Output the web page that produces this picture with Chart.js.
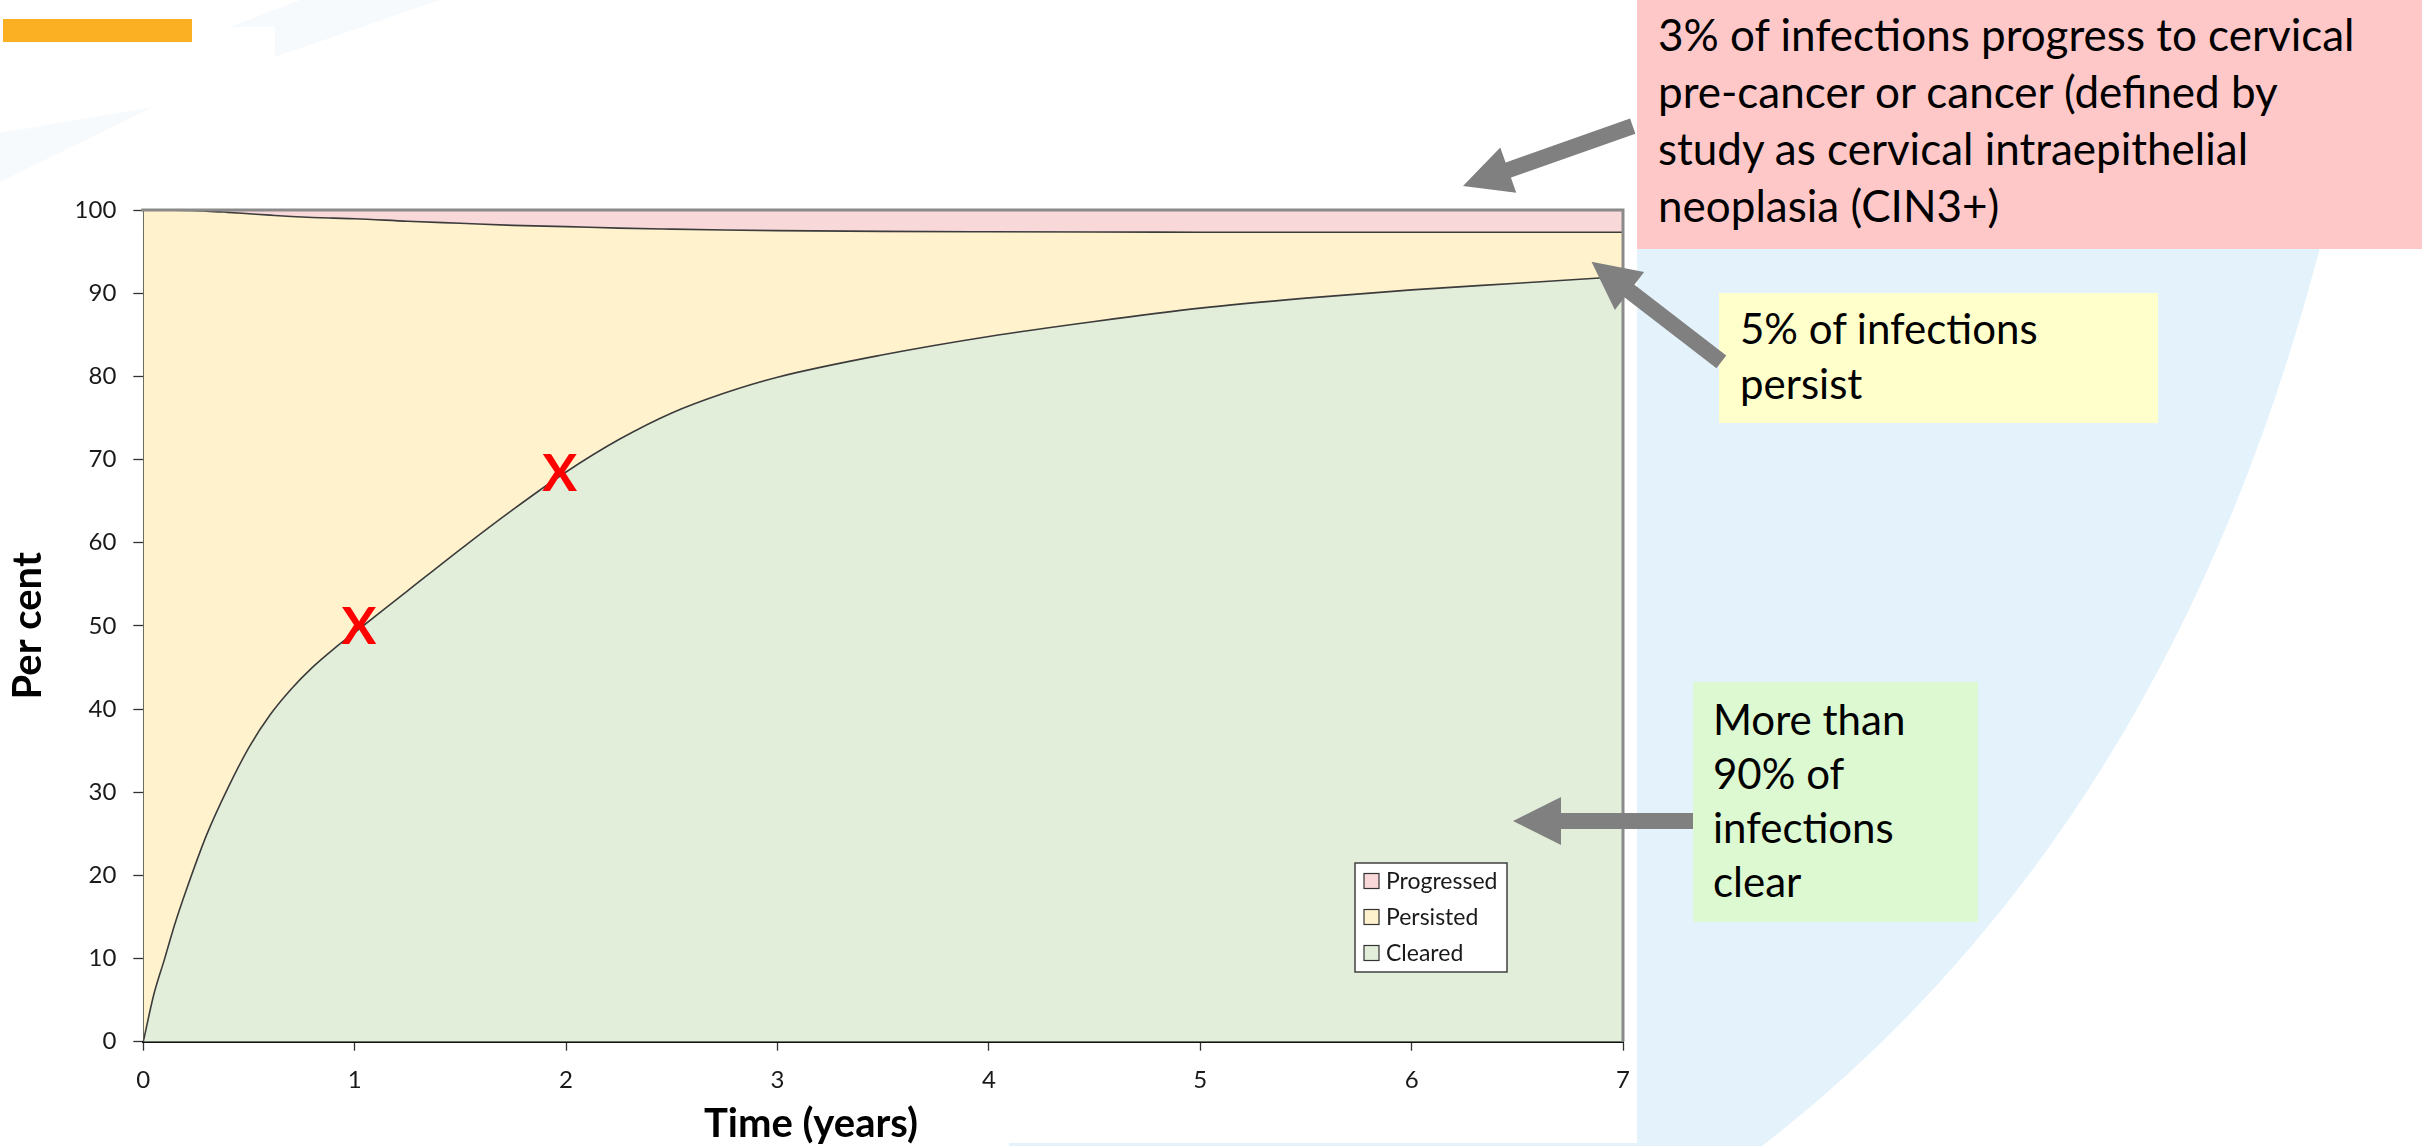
<!DOCTYPE html>
<html>
<head>
<meta charset="utf-8">
<script src="https://cdn.jsdelivr.net/npm/chart.js@4.4.1/dist/chart.umd.min.js"></script>
<style>
  html, body { margin: 0; padding: 0; background: #fff; width: 2422px; height: 1146px; overflow: hidden; }
  #bg, #arrows { position: absolute; left: 0; top: 0; }
  #arrows { pointer-events: none; }
  #wrap { position: absolute; left: 0; top: 0; width: 2422px; height: 1146px; }
  .box { position: absolute; }
  .note { position: absolute; font-family: Lato, "Open Sans", sans-serif; font-size: 42px; color: #000; white-space: nowrap; }
  #topbar { position: absolute; left: 3px; top: 19px; width: 189px; height: 23px; background: #FBB024; }
</style>
</head>
<body>
<svg id="bg" width="2422" height="1146">
  <polygon points="0,133 153,107 0,182" fill="#F7FAFD"/>
  <polygon points="230,27 275,27 275,57 440,0 300,0" fill="#F7FAFD"/>
  <path d="M1637,0 L2422,0 L2422,240 L2322,240 Q2170,830 1762,1146 L1009,1146 L1009,1143 L1637,1143 Z" fill="#E4F2FB"/>
</svg>

<div id="topbar"></div>

<div id="wrap"><canvas id="chart" width="2422" height="1146"></canvas></div>

<div class="box" style="left:1637px;top:0;width:785px;height:249px;background:#FFC8C8;"></div>
<div class="note" style="left:1658px;top:6px;font-size:44px;line-height:57px;">3% of infections progress to cervical<br>pre-cancer or cancer (defined by<br>study as cervical intraepithelial<br>neoplasia (CIN3+)</div>

<div class="box" style="left:1719px;top:293px;width:439px;height:130px;background:#FFFFCC;"></div>
<div class="note" style="left:1740px;top:301px;line-height:55px;">5% of infections<br>persist</div>

<div class="box" style="left:1693px;top:682px;width:285px;height:240px;background:#DCF9D1;"></div>
<div class="note" style="left:1713px;top:692px;line-height:54px;">More than<br>90% of<br>infections<br>clear</div>

<svg id="arrows" width="2422" height="1146">
  <g fill="#808080" stroke="none">
    <!-- arrow towards the progressed band -->
    <g transform="translate(1463,186) rotate(-19.44)">
      <rect x="46" y="-8" width="134" height="16"/>
      <polygon points="0,0 48,-24 48,24"/>
    </g>
    <!-- arrow towards the persisted band -->
    <g transform="translate(1591.5,261.7) rotate(37.65)">
      <rect x="46" y="-8" width="118" height="16"/>
      <polygon points="0,0 48,-24 48,24"/>
    </g>
    <!-- arrow towards the cleared area -->
    <g transform="translate(1513,821)">
      <rect x="46" y="-8" width="134" height="16"/>
      <polygon points="0,0 48,-24 48,24"/>
    </g>
  </g>
</svg>

<script>
// Time since infection (years) and cumulative outcome shares (per cent)
const years = [0, 0.05, 0.1, 0.15, 0.2, 0.3, 0.4, 0.5, 0.6, 0.7, 0.8, 0.9, 1.0, 1.25, 1.5, 1.75, 2.0, 2.25, 2.5, 2.75, 3.0, 3.5, 4.0, 4.5, 5.0, 5.5, 6.0, 6.5, 7.0];
const cleared = [0, 5.7, 9.9, 14.2, 18.0, 24.9, 30.5, 35.4, 39.3, 42.4, 45.0, 47.2, 49.2, 54.2, 59.2, 64.0, 68.5, 72.4, 75.6, 78.0, 79.9, 82.6, 84.8, 86.6, 88.2, 89.4, 90.4, 91.2, 92.0];
const progressed = [0, 0, 0.01, 0.02, 0.05, 0.13, 0.28, 0.45, 0.62, 0.78, 0.9, 0.98, 1.05, 1.35, 1.6, 1.85, 2.0, 2.18, 2.3, 2.4, 2.48, 2.57, 2.62, 2.65, 2.67, 2.68, 2.68, 2.68, 2.68];

// Highlighted points on the clearance curve
const markerYears = [1.02, 1.97];
const markerValues = [50.1, 68.5];

const xTicks = [0, 1, 2, 3, 4, 5, 6, 7];
const yTicks = [0, 10, 20, 30, 40, 50, 60, 70, 80, 90, 100];

const seriesNames = ['Cleared', 'Persisted', 'Progressed'];
const fillColours = ['#E2EEDA', '#FFF2CC', '#F9D8D9'];

// persisted share = whatever has neither cleared nor progressed
const persisted = years.map((_, i) => +(100 - cleared[i] - progressed[i]).toFixed(2));
const toPoints = arr => years.map((t, i) => ({ x: t, y: arr[i] }));

const frame = {
  id: 'frame',
  afterDatasetsDraw(chart) {
    const { ctx, chartArea: a } = chart;
    ctx.save();
    ctx.strokeStyle = '#8A8A8A';
    ctx.lineWidth = 3;
    ctx.beginPath();
    ctx.moveTo(a.left - 2, a.top);
    ctx.lineTo(a.right, a.top);
    ctx.lineTo(a.right, a.bottom);
    ctx.stroke();
    ctx.restore();
  }
};

const markers = {
  id: 'markers',
  afterDatasetsDraw(chart) {
    const { ctx, scales: { x, y } } = chart;
    ctx.save();
    ctx.font = 'bold 52px Lato';
    ctx.fillStyle = '#FF0000';
    ctx.textAlign = 'center';
    ctx.textBaseline = 'alphabetic';
    markerYears.forEach((t, i) => {
      ctx.fillText('X', x.getPixelForValue(t), y.getPixelForValue(markerValues[i]) + 19);
    });
    ctx.restore();
  }
};

const boxLegend = {
  id: 'boxLegend',
  afterDraw(chart) {
    const { ctx } = chart;
    const left = 1355, top = 863, w = 152, h = 109;
    ctx.save();
    ctx.fillStyle = '#FFFFFF';
    ctx.fillRect(left, top, w, h);
    ctx.strokeStyle = '#404040';
    ctx.lineWidth = 1.5;
    ctx.strokeRect(left, top, w, h);
    ctx.font = '23px Lato';
    ctx.textBaseline = 'middle';
    const sets = chart.data.datasets.slice().reverse();
    sets.forEach((ds, i) => {
      const cy = top + 18 + i * 36;
      ctx.fillStyle = ds.backgroundColor;
      ctx.fillRect(left + 9, cy - 7.5, 15, 15);
      ctx.strokeStyle = '#333';
      ctx.lineWidth = 1.2;
      ctx.strokeRect(left + 9, cy - 7.5, 15, 15);
      ctx.fillStyle = '#1a1a1a';
      ctx.fillText(ds.label, left + 31, cy + 1);
    });
    ctx.restore();
  }
};

const xTitle = {
  id: 'xTitle',
  afterDraw(chart) {
    const { ctx } = chart;
    ctx.save();
    ctx.font = 'bold 40px Lato';
    ctx.fillStyle = '#000';
    ctx.textAlign = 'center';
    ctx.textBaseline = 'alphabetic';
    ctx.fillText('Time (years)', 811, 1137);
    ctx.restore();
  }
};

new Chart(document.getElementById('chart'), {
  type: 'line',
  data: {
    datasets: [
      { label: seriesNames[0], data: toPoints(cleared), fill: 'origin', backgroundColor: fillColours[0],
        borderColor: '#3C3C3C', borderWidth: 1.6 },
      { label: seriesNames[1], data: toPoints(persisted), fill: '-1', backgroundColor: fillColours[1],
        borderColor: '#3C3C3C', borderWidth: 1.6 },
      { label: seriesNames[2], data: toPoints(progressed), fill: '-1', backgroundColor: fillColours[2],
        borderWidth: 0 }
    ]
  },
  options: {
    responsive: false,
    animation: false,
    events: [],
    layout: { padding: { left: 0, top: 210, right: 799, bottom: 0 } },
    elements: { point: { radius: 0 }, line: { cubicInterpolationMode: 'monotone' } },
    plugins: { legend: { display: false }, tooltip: { enabled: false } },
    scales: {
      x: {
        type: 'linear', min: 0, max: 7,
        afterFit: s => { s.height = 104.3; },
        afterBuildTicks: s => { s.ticks = xTicks.map(v => ({ value: v })); },
        grid: { drawOnChartArea: false, drawTicks: true, tickLength: 9, tickColor: '#333', tickWidth: 1.3 },
        border: { display: true, color: '#111', width: 2 },
        ticks: { font: { family: 'Lato', size: 24 }, color: '#1a1a1a', padding: 15, maxRotation: 0 }
      },
      y: {
        stacked: true, min: 0, max: 100,
        afterFit: s => { s.width = 143.3; },
        afterBuildTicks: s => { s.ticks = yTicks.map(v => ({ value: v })); },
        grid: { drawOnChartArea: false, drawTicks: true, tickLength: 10, tickColor: '#333', tickWidth: 1.3 },
        border: { display: true, color: '#222', width: 1.5 },
        ticks: { font: { family: 'Lato', size: 24 }, color: '#1a1a1a', padding: 17 },
        title: { display: true, text: 'Per cent', font: { family: 'Lato', size: 40, weight: 'bold' }, color: '#000', padding: { top: 4, bottom: 0 } }
      }
    }
  },
  plugins: [frame, markers, boxLegend, xTitle]
});
</script>
</body>
</html>
